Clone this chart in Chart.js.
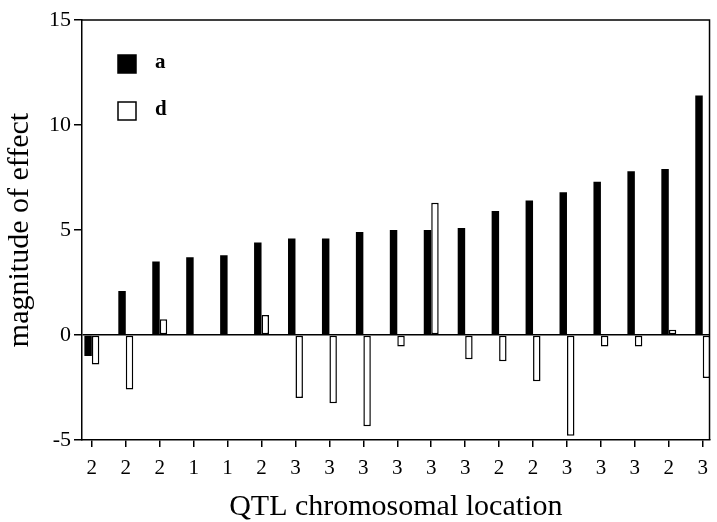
<!DOCTYPE html>
<html>
<head>
<meta charset="utf-8">
<script src="https://cdn.jsdelivr.net/npm/chart.js@4"></script>
<style>
  html, body { margin: 0; padding: 0; background: #fff; }
  #wrap { width: 717px; height: 522px; }
</style>
</head>
<body>
<div id="wrap"><canvas id="qtl"></canvas></div>
<script>
// chromosome of each QTL, left to right
const chromosomes = ["2", "2", "2", "1", "1", "2", "3", "3", "3", "3", "3", "3", "2", "2", "3", "3", "3", "2", "3"];
// additive effect (a)
const additive = [-1.0, 2.1, 3.5, 3.7, 3.8, 4.4, 4.6, 4.6, 4.9, 5.0, 5.0, 5.1, 5.9, 6.4, 6.8, 7.3, 7.8, 7.9, 11.4];
// dominance effect (d)
const dominance = [-1.4, -2.6, 0.75, 0, 0, 0.95, -3.0, -3.25, -4.35, -0.55, 6.3, -1.15, -1.25, -2.2, -4.8, -0.55, -0.55, 0.25, -2.05];
const yTicks = [-5, 0, 5, 10, 15];

const serif = "'Liberation Serif', 'Times New Roman', serif";

const toPoints = (vals) => vals.map((v, i) => ({ x: i, y: v }));

// box round the plot and the in-plot legend
const frame = {
  id: "frame",
  afterDraw(chart) {
    const { ctx, chartArea: a } = chart;
    ctx.save();
    ctx.strokeStyle = "#000";
    ctx.lineWidth = 1.5;
    ctx.beginPath();
    ctx.moveTo(a.left, a.top);
    ctx.lineTo(a.right, a.top);
    ctx.lineTo(a.right, a.bottom);
    ctx.stroke();

    ctx.font = "bold 21px " + serif;
    ctx.textBaseline = "middle";
    chart.data.datasets.forEach((ds, i) => {
      const x = a.left + 36;
      const y = a.top + 35 + i * 47;
      ctx.fillStyle = ds.backgroundColor;
      ctx.fillRect(x, y, 18, 18);
      ctx.lineWidth = 1.5;
      ctx.strokeRect(x, y, 18, 18);
      ctx.fillStyle = "#000";
      ctx.fillText(ds.label, x + 37, y + 8);
    });
    ctx.restore();
  },
};

new Chart(document.getElementById("qtl"), {
  type: "bar",
  data: {
    datasets: [
      {
        label: "a",
        data: toPoints(additive),
        backgroundColor: "#000",
        borderWidth: 0,
      },
      {
        label: "d",
        data: toPoints(dominance),
        backgroundColor: "#fff",
        borderColor: "#000",
        borderWidth: 1.5,
        borderSkipped: false,
      },
    ],
  },
  options: {
    responsive: true,
    maintainAspectRatio: false,
    animation: false,
    layout: { padding: { top: 20, right: 1, left: 0, bottom: 0 } },
    datasets: { bar: { categoryPercentage: 0.44, barPercentage: 1.0 } },
    plugins: { legend: { display: false }, tooltip: { enabled: false } },
    scales: {
      x: {
        type: "linear",
        offset: false,
        min: -0.29,
        max: 18.2,
        afterBuildTicks: (s) => {
          s.ticks = chromosomes.map((c, i) => ({ value: i }));
        },
        afterFit: (s) => { s.height = 82; },
        ticks: {
          stepSize: 1,
          color: "#000",
          padding: 9,
          autoSkip: false,
          maxRotation: 0,
          font: { family: serif, size: 21 },
          callback: (v) => chromosomes[v] ?? "",
        },
        grid: { offset: false, drawOnChartArea: false, color: "#000", tickLength: 7, lineWidth: 1.5 },
        border: { color: "#000", width: 1.5 },
        title: {
          display: true,
          text: "QTL chromosomal location",
          color: "#000",
          font: { family: serif, size: 30 },
          padding: { top: 0, bottom: -3 },
        },
      },
      y: {
        min: -5,
        max: 15,
        afterBuildTicks: (s) => {
          s.ticks = yTicks.map((v) => ({ value: v }));
        },
        afterFit: (s) => { s.width = 82; },
        ticks: {
          color: "#000",
          padding: 3,
          font: { family: serif, size: 22 },
        },
        grid: {
          color: (c) => (c.tick && c.tick.value === 0 ? "#000" : "rgba(0,0,0,0)"),
          tickColor: "#000",
          tickLength: 8,
          lineWidth: 1.5,
        },
        border: { color: "#000", width: 1.5 },
        title: {
          display: true,
          text: "magnitude of effect",
          color: "#000",
          font: { family: serif, size: 30 },
          padding: { top: 2, bottom: 0 },
        },
      },
    },
  },
  plugins: [frame],
});
</script>
</body>
</html>
